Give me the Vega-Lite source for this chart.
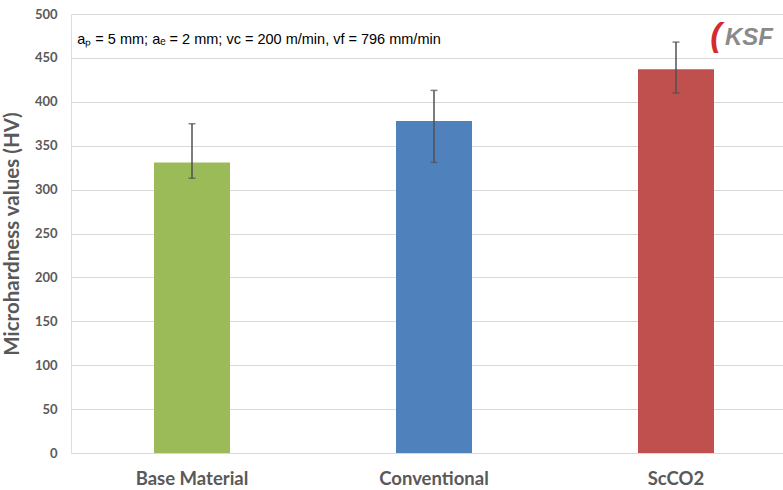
{
  "$schema": "https://vega.github.io/schema/vega-lite/v6.json",
  "autosize": {"type": "none"},
  "padding": {"left": 71, "top": 14, "right": 0, "bottom": 37},
  "width": 726,
  "height": 439,
  "background": "white",
  "title": {
    "text": "aₚ = 5 mm; aₑ = 2 mm; vc = 200 m/min, vf = 796 mm/min",
    "font": "Liberation Sans",
    "fontSize": 14.5,
    "fontWeight": "normal",
    "color": "#000000",
    "anchor": "middle",
    "dx": -175,
    "offset": -39
  },
  "data": {
    "values": [
      {"group": "Base Material", "value": 331, "low": 313, "high": 375},
      {"group": "Conventional", "value": 378, "low": 331, "high": 413},
      {"group": "ScCO2", "value": 437, "low": 410, "high": 468}
    ]
  },
  "encoding": {
    "x": {
      "field": "group",
      "type": "nominal",
      "sort": null,
      "scale": {"paddingInner": 0.686, "paddingOuter": 0.343},
      "axis": {
        "title": null,
        "labelAngle": 0,
        "labelFont": "Lato",
        "labelFontSize": 18.5,
        "labelFontWeight": "bold",
        "labelColor": "#595959",
        "labelPadding": 16,
        "ticks": false,
        "domain": false
      }
    }
  },
  "layer": [
    {
      "mark": {"type": "bar"},
      "encoding": {
        "y": {
          "field": "value",
          "type": "quantitative",
          "scale": {"domain": [0, 500]},
          "axis": {
            "values": [0, 50, 100, 150, 200, 250, 300, 350, 400, 450, 500],
            "title": "Microhardness values (HV)",
            "titleFont": "Lato",
            "titleFontSize": 20.5,
            "titleFontWeight": "bold",
            "titleColor": "#595959",
            "titlePadding": 12,
            "labelFont": "Lato",
            "labelFontSize": 13,
            "labelFontWeight": "bold",
            "labelColor": "#595959",
            "labelPadding": 14,
            "ticks": false,
            "domain": false,
            "grid": true,
            "gridColor": "#d9d9d9",
            "gridWidth": 1.2
          }
        },
        "color": {
          "field": "group",
          "type": "nominal",
          "sort": null,
          "scale": {"range": ["#9BBB59", "#4F81BD", "#C0504D"]},
          "legend": null
        }
      }
    },
    {
      "mark": {"type": "rule", "color": "#505050", "strokeWidth": 1.5},
      "encoding": {
        "y": {"field": "low", "type": "quantitative"},
        "y2": {"field": "high"}
      }
    },
    {
      "mark": {"type": "tick", "color": "#505050", "size": 7, "thickness": 1.5, "orient": "horizontal"},
      "encoding": {"y": {"field": "low", "type": "quantitative"}}
    },
    {
      "mark": {"type": "tick", "color": "#505050", "size": 7, "thickness": 1.5, "orient": "horizontal"},
      "encoding": {"y": {"field": "high", "type": "quantitative"}}
    },
    {
      "data": {"values": [{"label": "KSF"}]},
      "mark": {"type": "text", "font": "Liberation Sans", "fontSize": 24, "fontWeight": "bold", "fontStyle": "italic", "color": "#8a8a8a", "dx": 73, "align": "center", "baseline": "middle"},
      "encoding": {
        "x": {"datum": "ScCO2"},
        "y": {"datum": 473},
        "text": {"field": "label"}
      }
    },
    {
      "data": {"values": [{"label": "("}]},
      "mark": {"type": "text", "font": "Liberation Sans", "fontSize": 34, "fontWeight": "bold", "fontStyle": "italic", "color": "#D42C2C", "dx": 40, "align": "center", "baseline": "middle"},
      "encoding": {
        "x": {"datum": "ScCO2"},
        "y": {"datum": 475},
        "text": {"field": "label"}
      }
    }
  ]
}
